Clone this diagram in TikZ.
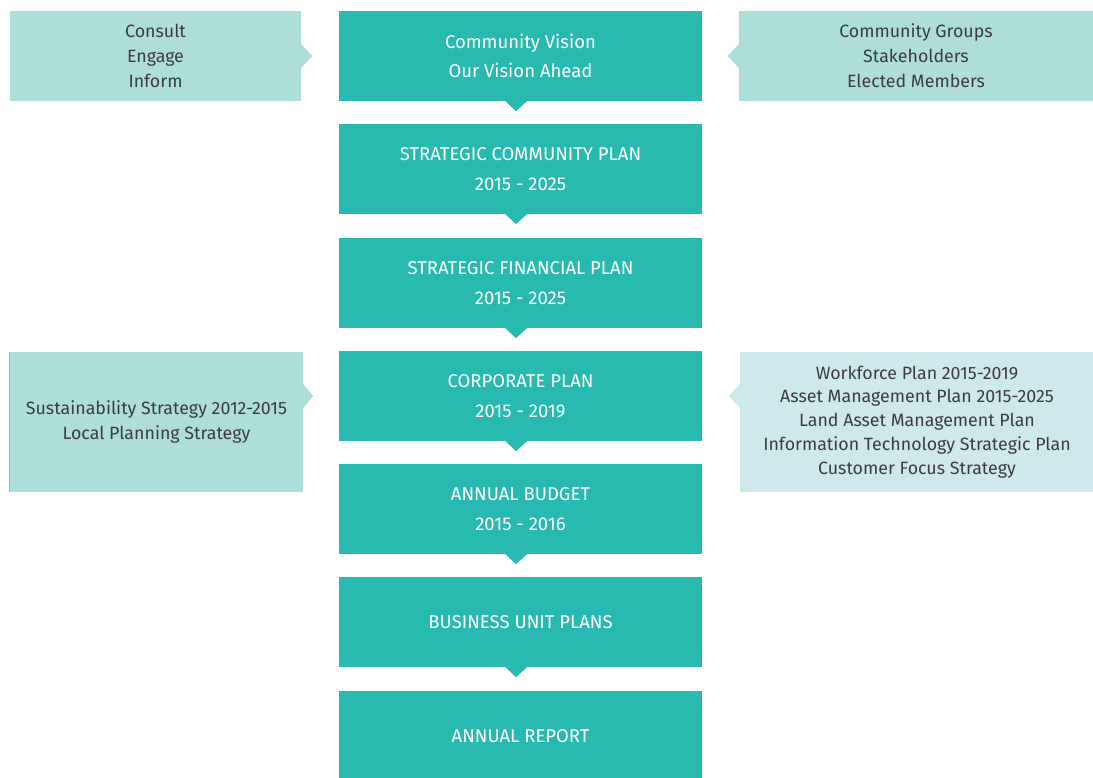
\documentclass[tikz,border=0pt]{standalone}
\usepackage{fontspec}
\setmainfont{Fira Sans}
\definecolor{planteal}{RGB}{40,185,176}
\definecolor{sidemint}{RGB}{173,222,215}
\definecolor{sideice}{RGB}{206,233,236}
\definecolor{sidetext}{RGB}{60,60,60}
\begin{document}
\begin{tikzpicture}[x=1pt,y=1pt,
  planbox/.style={fill=planteal, minimum width=363pt, minimum height=90pt,
    inner sep=0pt, text=white, align=center,
    font=\fontsize{18.5}{29.5}\selectfont},
  sidebox/.style={inner sep=0pt, text=sidetext, align=center,
    font=\fontsize{17.8}{25}\selectfont},
  tip/.style={fill=planteal}]
\useasboundingbox (0,0) rectangle (1093,-778);
\begin{scope}
\clip (0,0) rectangle (1093,-778);
% main planning chain
\node[planbox] (b1) at (520.5,-56) {Community Vision\\Our Vision Ahead};
\node[planbox] (b2) at (520.5,-169) {STRATEGIC COMMUNITY PLAN\\2015 - 2025};
\node[planbox] (b3) at (520.5,-283) {STRATEGIC FINANCIAL PLAN\\2015 - 2025};
\node[planbox] (b4) at (520.5,-396) {CORPORATE PLAN\\2015 - 2019};
\node[planbox] (b5) at (520.5,-509) {ANNUAL BUDGET\\2015 - 2016};
\node[planbox] (b6) at (520.5,-622) {BUSINESS UNIT PLANS};
\node[planbox] (b7) at (520.5,-736) {ANNUAL REPORT};
% downward tabs under each stage
\foreach \n in {b1,b2,b3,b4,b5,b6}{
  \fill[tip] ([xshift=-15pt]\n.south) -- ([xshift=-4.5pt,yshift=-10pt]\n.south)
    -- ([xshift=6.5pt]\n.south) -- cycle;
}
% side panels
\node[sidebox, fill=sidemint, minimum width=291pt, minimum height=90pt] (l1) at (155.5,-56) {Consult\\Engage\\Inform};
\node[sidebox, fill=sidemint, minimum width=354pt, minimum height=90pt] (r1) at (916,-56) {Community Groups\\Stakeholders\\Elected Members};
\node[sidebox, fill=sidemint, minimum width=293pt, minimum height=140pt] (l2) at (156.5,-422) {Sustainability Strategy 2012-2015\\Local Planning Strategy};
\node[sidebox, fill=sideice, minimum width=354pt, minimum height=140pt, font=\fontsize{17.8}{23.8}\selectfont] (r2) at (917,-422) {Workforce Plan 2015-2019\\Asset Management Plan 2015-2025\\Land Asset Management Plan\\Information Technology Strategic Plan\\Customer Focus Strategy};
\draw[planteal!45!sidemint, line width=1pt] (l2.north west) -- (l2.south west);
% side tabs pointing at the chain
\fill[sidemint] (l1.east |- b1) ++(0,12) -- ++(11,-12) -- ++(-11,-12) -- cycle;
\fill[sidemint] (r1.west |- b1) ++(0,12) -- ++(-11,-12) -- ++(11,-12) -- cycle;
\fill[sidemint] (l2.east |- b4) ++(0,12) -- ++(10,-12) -- ++(-10,-12) -- cycle;
\fill[sideice] (r2.west |- b4) ++(0,12) -- ++(-11,-12) -- ++(11,-12) -- cycle;
\end{scope}
\end{tikzpicture}
\end{document}
